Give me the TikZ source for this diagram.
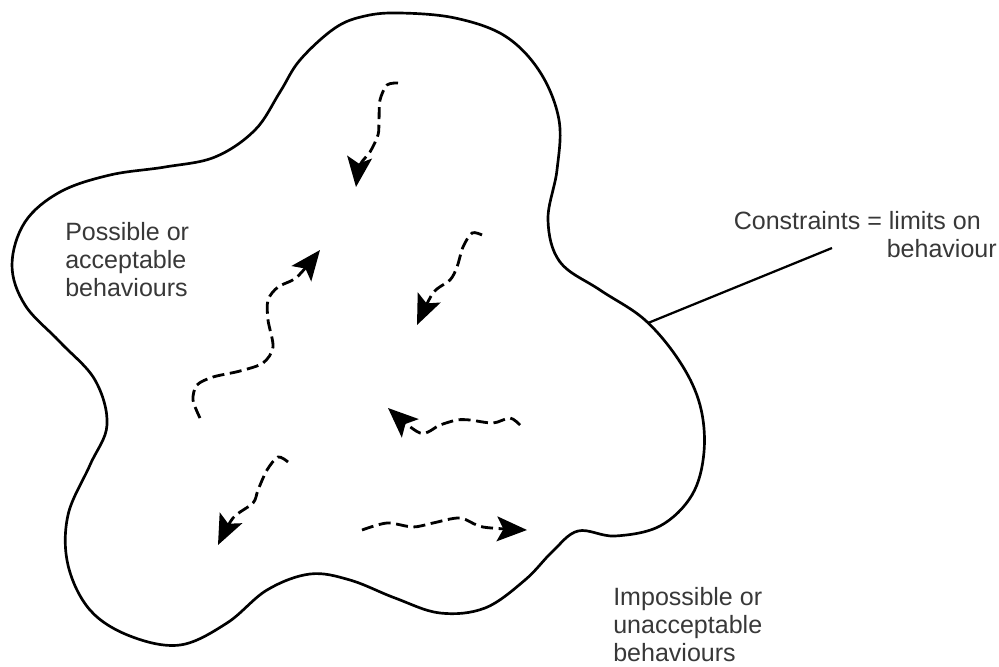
\documentclass[tikz,border=0pt]{standalone}
\usepackage{fontspec}
\setmainfont{Liberation Sans}
\usetikzlibrary{arrows.meta}

\begin{document}
\begin{tikzpicture}[
            x=0.025cm, y=-0.025cm,
            every node/.style={inner sep=0pt, text=black!78, font=\fontsize{17.8}{19.8}\selectfont},
            outline/.style={line width=1.9pt, line join=round},
            leader/.style={line width=1.6pt},
            flow/.style={line width=2pt, dash pattern=on 0.3cm off 0.14cm,
              -{Stealth[length=0.75cm, width=0.62cm, inset=0.16cm]}},
            ]
            \useasboundingbox (0,0) rectangle (999,666);
            % the space of behaviours
            \draw[outline] plot[smooth cycle, tension=0.6] coordinates {
              (400,13) (455,18) (505,36) (540,72) (559,120) (557,170) (548,220) (560,262)
              (600,290) (645,320) (680,362) (700,405) (704,452) (692,495) (660,526) (615,536)
              (578,531) (552,552) (525,580) (485,608) (440,613) (395,598) (350,580) (310,574)
              (267,590) (227,623) (180,645) (130,636) (90,610) (68,565) (68,515) (90,465)
              (107,425) (95,380) (60,342) (25,305) (12,265) (25,222) (60,192) (110,175)
              (165,167) (215,157) (255,130) (280,92) (300,60) (335,28) (365,16)};
            % wandering behaviours
            \draw[flow] plot[smooth] coordinates {(398,83) (387,85) (380,100) (379,120) (378,135) (370,152) (360,165) (356,187)};
            \draw[flow] plot[smooth] coordinates {(200,418) (193,400) (197,385) (213,377) (240,371) (263,363) (273,347) (268,320) (268,300) (278,287) (297,277) (320,250)};
            \draw[flow] plot[smooth] coordinates {(482,235) (472,233) (463,247) (457,267) (450,280) (433,293) (417,325)};
            \draw[flow] plot[smooth] coordinates {(520,425) (510,418) (493,423) (470,420) (457,420) (440,425) (420,433) (388,408)};
            \draw[flow] plot[smooth] coordinates {(288,462) (278,457) (267,470) (258,490) (253,503) (233,518) (218,545)};
            \draw[flow] plot[smooth] coordinates {(362,530) (387,523) (413,527) (433,523) (460,518) (483,527) (527,530)};
            % labels
            \node[anchor=north west, align=left] (inside) at (65,222) {Possible or\\acceptable\\behaviours};
            \node[anchor=north east, align=right] (limits) at (997,211) {Constraints = limits on\hspace*{0.4cm}\\behaviour};
            \node[anchor=north west, align=left] (outside) at (613,587) {Impossible or\\unacceptable\\behaviours};
            \coordinate (touch) at (648,323);
            \coordinate (lead) at (832,248);
            \draw[leader] (touch) -- (lead);
\end{tikzpicture}
\end{document}
